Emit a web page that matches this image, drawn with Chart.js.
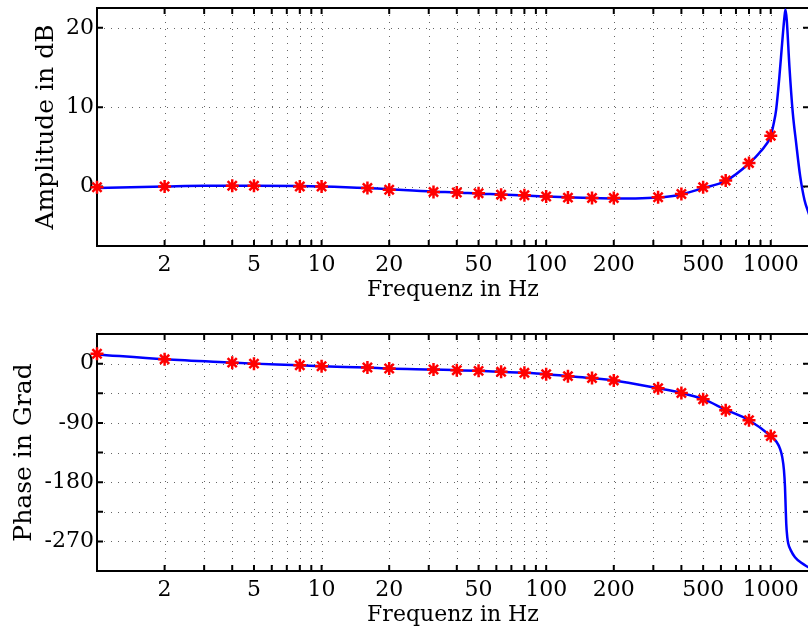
<!DOCTYPE html>
<html>
<head>
<meta charset="utf-8">
<script src="https://cdn.jsdelivr.net/npm/chart.js@4.4.1/dist/chart.umd.min.js"></script>
<style>
    html, body { margin: 0; padding: 0; background: #fff; overflow: hidden; }
    #wrap { position: relative; width: 808px; height: 632px; overflow: hidden; }
    .panel { position: absolute; left: 0; width: 812px; height: 316px; }
</style>
</head>
<body>
<div id="wrap">
    <div class="panel" style="top:0"><canvas id="ampChart" width="812" height="316"></canvas></div>
    <div class="panel" style="top:316px"><canvas id="phaseChart" width="812" height="316"></canvas></div>
</div>
<script>
// Measured points (red stars)
const markerFreq  = [1, 2, 4, 5, 8, 10, 16, 20, 31.5, 40, 50, 63, 80, 100, 125, 160, 200, 315, 400, 500, 630, 800, 1000];
const markerAmp   = [-0.1, 0.0, 0.1, 0.1, 0.0, 0.0, -0.2, -0.4, -0.7, -0.75, -0.85, -1.05, -1.1, -1.25, -1.4, -1.45, -1.45, -1.35, -0.95, -0.1, 0.75, 2.95, 6.4];
const markerPhase = [15, 6.5, 1.5, 0, -2.5, -4, -6, -7.5, -9, -10, -11, -12.5, -14, -16, -19, -22, -25.5, -37.5, -44.5, -54, -71, -86, -110];

// Model curve (blue line), amplitude
const ampCurveFreq = [1, 2, 3, 4, 5, 8, 10, 16, 20, 31.5, 40, 50, 63, 80, 100, 125, 160, 200, 250, 315, 400, 500, 630, 800, 900, 1000, 1030, 1057, 1093, 1124, 1151, 1163, 1178, 1211, 1253, 1297, 1352, 1413, 1480];
const ampCurve     = [-0.2, 0.0, 0.1, 0.1, 0.1, 0.05, 0.0, -0.2, -0.35, -0.65, -0.75, -0.9, -1.0, -1.15, -1.25, -1.35, -1.45, -1.5, -1.5, -1.4, -1.0, -0.2, 0.7, 2.9, 4.4, 6.4, 7.9, 9.7, 13.9, 18.1, 21.4, 22.3, 21.0, 15.1, 9.3, 5.5, 1.3, -1.7, -3.5];

// Model curve (blue line), phase
const phaseCurveFreq = [1, 2, 4, 5, 8, 10, 16, 20, 31.5, 40, 50, 63, 80, 100, 125, 160, 200, 315, 400, 500, 630, 800, 1000, 1062, 1099, 1125, 1145, 1157, 1165, 1172, 1184, 1197, 1230, 1282, 1373, 1480];
const phaseCurve     = [14, 6.5, 1.5, 0, -2.5, -4, -6, -7.5, -9, -10, -11, -12.5, -14, -16, -19, -22, -25.5, -37.5, -44.5, -54, -70, -86, -110, -119, -129, -142, -162, -187, -218, -243, -263, -273.5, -284, -294, -303, -310];

// Axes
const xMin = 1, xMax = 1480;
const xTickValues = [1, 2, 3, 4, 5, 6, 7, 8, 9, 10, 20, 30, 40, 50, 60, 70, 80, 90, 100, 200, 300, 400, 500, 600, 700, 800, 900, 1000];
const xTickLabels = [2, 5, 10, 20, 50, 100, 200, 500, 1000];
const ampTicks = [0, 10, 20];
const phaseTicks = [-270, -225, -180, -135, -90, -45, 0];
const phaseLabelStep = 90;

const serif = "'DejaVu Serif', 'Liberation Serif', serif";

// dotted grid, black box and inward tick marks like the MATLAB axes
const axesFrame = {
    id: 'axesFrame',
    beforeDatasetsDraw(chart) {
        const { ctx, chartArea: a, scales: { x, y } } = chart;
        ctx.save();

        // grid
        ctx.strokeStyle = 'rgba(0,0,0,0.6)';
        ctx.lineWidth = 1;
        ctx.setLineDash([1, 6]);
        x.ticks.forEach(t => {
            if (t.value <= x.min || t.value >= x.max) return;
            const px = Math.round(x.getPixelForValue(t.value)) + 0.5;
            ctx.beginPath(); ctx.moveTo(px, a.top); ctx.lineTo(px, a.bottom); ctx.stroke();
        });
        y.ticks.forEach(t => {
            if (t.value <= y.min || t.value >= y.max) return;
            const py = Math.round(y.getPixelForValue(t.value)) + 0.5;
            ctx.beginPath(); ctx.moveTo(a.left, py); ctx.lineTo(a.right, py); ctx.stroke();
        });

        // ticks
        ctx.setLineDash([]);
        ctx.strokeStyle = '#000';
        ctx.lineWidth = 2;
        const len = 6;
        x.ticks.forEach(t => {
            const px = x.getPixelForValue(t.value);
            ctx.beginPath();
            ctx.moveTo(px, a.bottom); ctx.lineTo(px, a.bottom - len);
            ctx.moveTo(px, a.top); ctx.lineTo(px, a.top + len);
            ctx.stroke();
        });
        y.ticks.forEach(t => {
            const py = y.getPixelForValue(t.value);
            ctx.beginPath();
            ctx.moveTo(a.left, py); ctx.lineTo(a.left + len, py);
            ctx.moveTo(a.right, py); ctx.lineTo(a.right - len, py);
            ctx.stroke();
        });

        // box
        ctx.strokeRect(a.left, a.top, a.right - a.left, a.bottom - a.top);
        ctx.restore();
    }
};

function toPoints(xs, ys) {
    return xs.map((v, i) => ({ x: v, y: ys[i] }));
}

function makeChart(canvasId, cfg) {
    return new Chart(document.getElementById(canvasId), {
        type: 'scatter',
        data: {
            datasets: [
                {
                    data: toPoints(cfg.curveFreq, cfg.curve),
                    showLine: true,
                    borderColor: '#0000ff',
                    borderWidth: 2.5,
                    pointRadius: 0,
                    cubicInterpolationMode: 'monotone',
                    order: 2
                },
                {
                    data: toPoints(markerFreq, cfg.markers),
                    showLine: false,
                    pointStyle: 'star',
                    pointRadius: 6.5,
                    borderColor: '#ff0000',
                    backgroundColor: '#ff0000',
                    borderWidth: 2.5,
                    clip: false,
                    order: 1
                }
            ]
        },
        options: {
            responsive: false,
            animation: false,
            events: [],
            layout: { autoPadding: false, padding: { top: cfg.top, right: 3, bottom: 0, left: 0 } },
            plugins: { legend: { display: false }, tooltip: { enabled: false } },
            scales: {
                x: {
                    type: 'logarithmic',
                    min: xMin,
                    max: xMax,
                    afterBuildTicks: s => { s.ticks = xTickValues.map(v => ({ value: v })); },
                    afterFit: s => { s.height = cfg.xHeight; s.paddingLeft = 0; s.paddingRight = 0; },
                    grid: { display: false, drawTicks: false },
                    border: { display: false },
                    ticks: {
                        autoSkip: false,
                        maxRotation: 0,
                        padding: 8.5,
                        color: '#000',
                        font: { family: serif, size: 22, lineHeight: 1 },
                        callback: v => xTickLabels.includes(v) ? String(v) : ''
                    },
                    title: {
                        display: true,
                        text: 'Frequenz in Hz',
                        color: '#000',
                        font: { family: serif, size: 22, lineHeight: 1 },
                        padding: { top: 0, bottom: cfg.xTitlePad }
                    }
                },
                y: {
                    min: cfg.yMin,
                    max: cfg.yMax,
                    afterBuildTicks: s => { s.ticks = cfg.yTicks.map(v => ({ value: v })); },
                    afterFit: s => { s.width = 97; s.paddingTop = 0; s.paddingBottom = 0; },
                    grid: { display: false, drawTicks: false },
                    border: { display: false },
                    ticks: {
                        padding: 3,
                        color: '#000',
                        font: { family: serif, size: 22, lineHeight: 1 },
                        callback: cfg.yLabel
                    },
                    title: {
                        display: true,
                        text: cfg.yTitle,
                        color: '#000',
                        font: { family: serif, size: 25, lineHeight: 1 },
                        padding: { top: cfg.yTitlePad, bottom: 0 }
                    }
                }
            }
        },
        plugins: [axesFrame]
    });
}

makeChart('ampChart', {
    curveFreq: ampCurveFreq, curve: ampCurve, markers: markerAmp,
    yMin: -7.5, yMax: 22.5, yTicks: ampTicks,
    yLabel: v => String(v),
    yTitle: 'Amplitude in dB', yTitlePad: 33.5,
    top: 8, xHeight: 70, xTitlePad: 14.7
});

makeChart('phaseChart', {
    curveFreq: phaseCurveFreq, curve: phaseCurve, markers: markerPhase,
    yMin: -315, yMax: 45, yTicks: phaseTicks,
    yLabel: v => (v % phaseLabelStep === 0 ? String(v) : ''),
    yTitle: 'Phase in Grad', yTitlePad: 11.5,
    top: 18, xHeight: 61, xTitlePad: 5.7
});
</script>
</body>
</html>
